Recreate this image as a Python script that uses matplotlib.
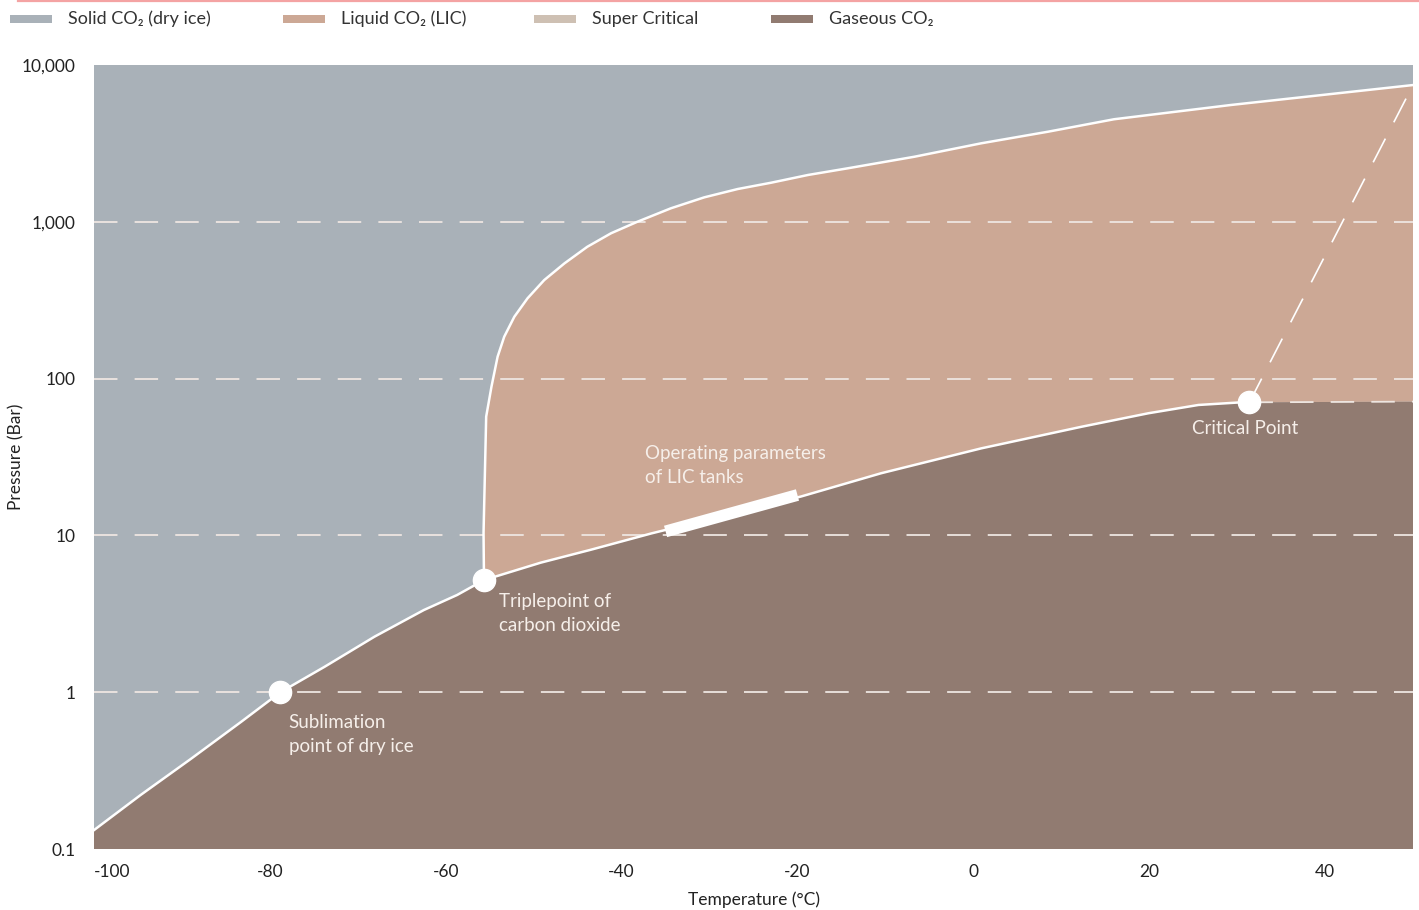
import matplotlib
matplotlib.use("Agg")
import matplotlib.pyplot as plt
from matplotlib.patches import Rectangle
from matplotlib.lines import Line2D

plt.rcParams['font.family'] = ['Lato', 'DejaVu Sans']

# ---------------- data ----------------
# Sublimation curve (solid / gas)
sub_temp = [-100, -94.7, -89.0, -83.3, -78.8, -73.8, -68.1, -62.5, -58.7, -55.65]
sub_pres = [0.132, 0.221, 0.375, 0.645, 1.0, 1.45, 2.26, 3.34, 4.17, 5.19]

# Melting curve (solid / liquid)
melt_temp = [-55.65, -55.7, -55.4, -54.8, -54.1, -53.35, -52.2, -50.7, -48.8, -46.5,
             -43.9, -41.2, -38.2, -34.4, -30.6, -26.8, -23.0, -18.8, -14.3, -6.7,
             0.9, 8.5, 16.0, 29.3, 50.0]
melt_pres = [5.19, 10.4, 57.2, 88.8, 138, 185, 248, 325, 425, 543,
             693, 845, 1001, 1219, 1432, 1618, 1775, 1989, 2193, 2600,
             3167, 3755, 4508, 5560, 7450]

# Vaporisation curve (liquid / gas)
vap_temp = [-55.65, -49.2, -43.5, -36.6, -19.6, -10.5, 0.9, 12.3, 19.9, 25.6, 30.5, 31.4]
vap_pres = [5.19, 6.7, 8.1, 10.3, 17.7, 24.9, 35.9, 49.3, 60.1, 67.9, 70.6, 70.6]

# Critical isobar continuation and supercritical boundary
crit_line_temp = [31.4, 50.0]
crit_line_pres = [70.6, 71.3]
super_temp = [31.4, 50.0]
super_pres = [70.6, 7450]

# Key points
point_names = ["Sublimation\npoint of dry ice", "Triplepoint of\ncarbon dioxide", "Critical Point"]
point_temp = [-78.8, -55.65, 31.4]
point_pres = [1.0, 5.19, 70.6]

# Operating parameters of LIC tanks
op_label = "Operating parameters\nof LIC tanks"
op_temp = [-35.0, -20.0]
op_pres = [10.6, 18.1]

x_ticks = [-100, -80, -60, -40, -20, 0, 20, 40]
y_ticks = [0.1, 1, 10, 100, 1000, 10000]
y_tick_labels = ["0.1", "1", "10", "100", "1,000", "10,000"]
grid_levels = [1, 10, 100, 1000]

legend_labels = ["Solid CO\u2082 (dry ice)", "Liquid CO\u2082 (LIC)", "Super Critical", "Gaseous CO\u2082"]
legend_colors = ["#A9B1B8", "#CCA895", "#CEC0B3", "#917B71"]

C_SOLID, C_LIQUID, C_SUPER, C_GAS = legend_colors
XMIN, XMAX, YMIN, YMAX = -100, 50, 0.1, 10000

# ---------------- figure ----------------
fig = plt.figure(figsize=(14.19, 9.10), dpi=100)
ax = fig.add_axes([94/1419, 1-849/910, (1413-94)/1419, (849-65)/910])
ax.set_xlim(XMIN, XMAX)
ax.set_yscale('log')
ax.set_ylim(YMIN, YMAX)
ax.set_facecolor(C_SOLID)

# gas region
gas_x = list(sub_temp) + list(vap_temp[1:]) + [crit_line_temp[1], XMAX, XMIN]
gas_y = list(sub_pres) + list(vap_pres[1:]) + [crit_line_pres[1], YMIN, YMIN]
ax.fill(gas_x, gas_y, color=C_GAS, lw=0, zorder=1)

# liquid region
liq_x = list(melt_temp) + [XMAX] + list(crit_line_temp[::-1]) + list(vap_temp[::-1])
liq_y = list(melt_pres) + [crit_line_pres[1]] + list(crit_line_pres[::-1]) + list(vap_pres[::-1])
ax.fill(liq_x, liq_y, color=C_LIQUID, lw=0, zorder=1)

# horizontal dashed grid
for g in grid_levels:
    ax.axhline(g, color="#EEE6E1", lw=1.3, dashes=(13, 9.5), zorder=2)

# boundary curves
lw = 1.8
ax.plot(sub_temp, sub_pres, color="white", lw=lw, zorder=3, solid_joinstyle='round')
ax.plot(melt_temp, melt_pres, color="white", lw=lw, zorder=3, solid_joinstyle='round')
ax.plot(vap_temp, vap_pres, color="white", lw=lw, zorder=3, solid_joinstyle='round')
ax.plot(crit_line_temp, crit_line_pres, color="#EEE6E1", lw=1.3, dashes=(13, 9.5), zorder=3)
ax.plot(super_temp, super_pres, color="white", lw=1.2, dashes=(16, 11), zorder=3)

# operating bar
ax.plot(op_temp, op_pres, color="white", lw=8.5, solid_capstyle='butt', zorder=4)

# points
ax.plot(point_temp, point_pres, 'o', color="white", ms=16, mec="white", zorder=5)

txt_kw = dict(color="#F6EFEA", fontsize=13.5, linespacing=1.45, zorder=6)
ax.annotate(point_names[0], (point_temp[0], point_pres[0]), xytext=(6, -16),
            textcoords='offset points', ha='left', va='top', **txt_kw)
ax.annotate(point_names[1], (point_temp[1], point_pres[1]), xytext=(11, -9.5),
            textcoords='offset points', ha='left', va='top', **txt_kw)
ax.annotate(point_names[2], (point_temp[2], point_pres[2]), xytext=(-3, -19),
            textcoords='offset points', ha='center', va='center', **txt_kw)
ax.annotate(op_label, (op_temp[0], op_pres[0]), xytext=(-15, 62),
            textcoords='offset points', ha='left', va='top', **txt_kw)

# axes styling
for s in ax.spines.values():
    s.set_visible(False)
ax.set_xticks(x_ticks)
ax.set_xticklabels([str(t) for t in x_ticks])
ax.set_yticks(y_ticks)
ax.set_yticklabels(y_tick_labels)
ax.yaxis.set_minor_locator(matplotlib.ticker.NullLocator())
ax.tick_params(axis='both', length=0, labelsize=12.5, labelcolor="#222222")
ax.tick_params(axis='x', pad=11)
ax.tick_params(axis='y', pad=13)
ax.get_xticklabels()[0].set_horizontalalignment('left')
ax.set_xlabel("Temperature (\u00b0C)", fontsize=12.5, color="#222222", labelpad=8)
fig.text(16/1419, 1-457/910, "Pressure (Bar)", rotation=90, fontsize=12.5,
         color="#222222", ha='center', va='center')

# top red rule
fig.add_artist(Line2D([18/1419, 1.0], [1-1/910, 1-1/910], color="#F4A3A3", lw=1.6))

# legend
leg_x = [10, 283, 534, 771]
for lx, lab, col in zip(leg_x, legend_labels, legend_colors):
    fig.add_artist(Rectangle((lx/1419, 1-23/910), 42/1419, 8/910, color=col, lw=0))
    fig.text((lx+58)/1419, 1-19/910, lab, fontsize=13, color="#333333", va='center', ha='left')

fig.savefig("out.png", dpi=100)
